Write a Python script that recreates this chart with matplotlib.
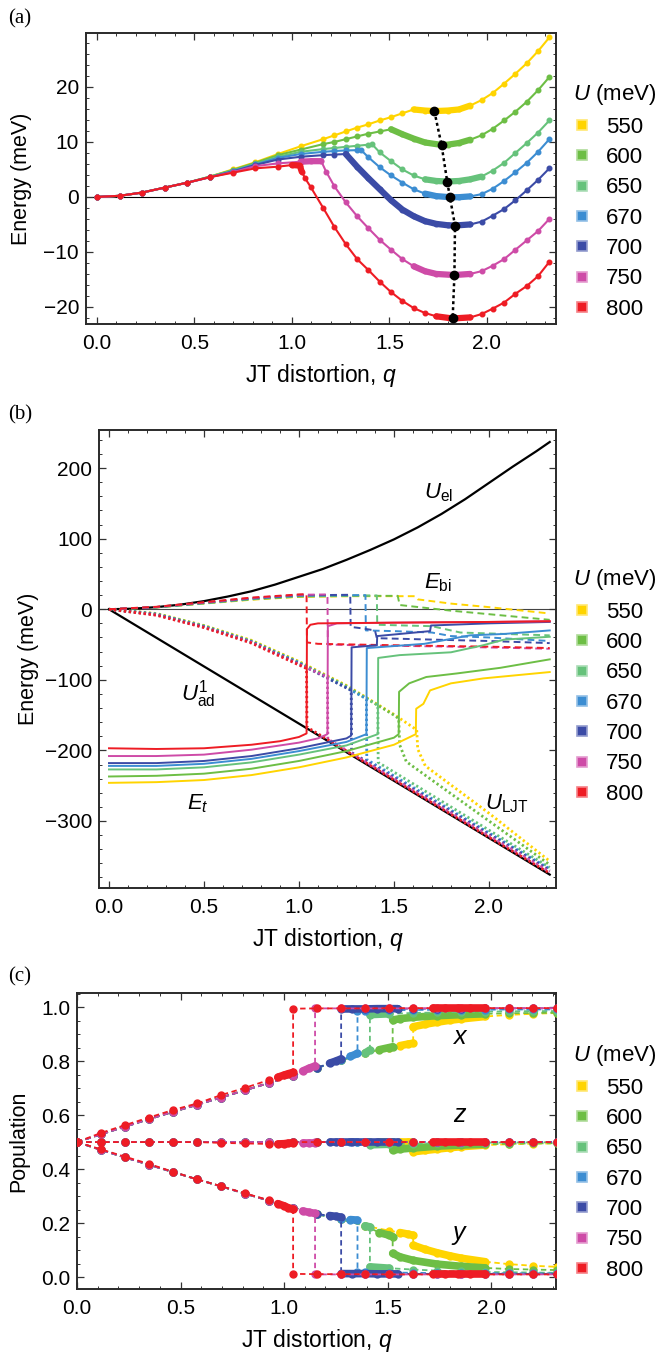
import numpy as np
import matplotlib.pyplot as plt
from matplotlib.lines import Line2D
from matplotlib.ticker import MultipleLocator
from matplotlib import colors as mcolors

plt.rcParams['font.family'] = ['Liberation Sans', 'DejaVu Sans']
plt.rcParams['mathtext.fontset'] = 'custom'
plt.rcParams['mathtext.rm'] = 'Liberation Sans'
plt.rcParams['mathtext.it'] = 'Liberation Sans:italic'
plt.rcParams['mathtext.bf'] = 'Liberation Sans:bold'

# Hubbard U values (meV) and their colours
u_values = [550, 600, 650, 670, 700, 750, 800]
u_colors = ['#FFD400', '#6DBE45', '#66C27B', '#3C8DD2', '#3B4BA6', '#CE4BA7', '#EE1C24']

# ---------------- panel (a): total energy vs q ----------------
a_q = [
    [0, .116, .232, .348, .464, .58, .696, .812, .928, 1.044, 1.16, 1.218, 1.276, 1.334, 1.392, 1.45,
     1.508, 1.566, 1.624, 1.682, 1.73, 1.798, 1.856, 1.914, 1.972, 2.03, 2.088, 2.146, 2.204, 2.262, 2.32],
    [0, .116, .232, .348, .464, .58, .696, .812, .928, 1.044, 1.16, 1.218, 1.276, 1.334, 1.392, 1.45,
     1.508, 1.566, 1.624, 1.682, 1.767, 1.798, 1.856, 1.914, 1.972, 2.03, 2.088, 2.146, 2.204, 2.262, 2.32],
    [0, .116, .232, .348, .464, .58, .696, .812, .928, 1.044, 1.16, 1.218, 1.276, 1.334, 1.392, 1.41, 1.45,
     1.508, 1.566, 1.624, 1.682, 1.74, 1.796, 1.856, 1.914, 1.972, 2.03, 2.088, 2.146, 2.204, 2.262, 2.32],
    [0, .116, .232, .348, .464, .58, .696, .812, .928, 1.044, 1.16, 1.218, 1.276, 1.334, 1.355, 1.392, 1.45,
     1.508, 1.566, 1.624, 1.682, 1.74, 1.81, 1.856, 1.914, 1.972, 2.03, 2.088, 2.146, 2.204, 2.262, 2.32],
    [0, .116, .232, .348, .464, .58, .696, .812, .928, 1.044, 1.16, 1.218, 1.276, 1.334, 1.392, 1.45,
     1.508, 1.566, 1.624, 1.682, 1.74, 1.798, 1.836, 1.914, 1.972, 2.03, 2.088, 2.146, 2.204, 2.262, 2.32],
    [0, .116, .232, .348, .464, .58, .696, .812, .928, 1.044, 1.1, 1.15, 1.175, 1.218, 1.276, 1.334, 1.392,
     1.45, 1.508, 1.566, 1.624, 1.682, 1.74, 1.833, 1.914, 1.972, 2.03, 2.088, 2.146, 2.204, 2.262, 2.32],
    [0, .116, .232, .348, .464, .58, .696, .812, .928, 1.0, 1.04, 1.05, 1.067, 1.096, 1.16, 1.218, 1.276,
     1.334, 1.392, 1.45, 1.508, 1.566, 1.624, 1.682, 1.74, 1.824, 1.914, 1.972, 2.03, 2.088, 2.146, 2.204,
     2.262, 2.32],
]
a_energy = [
    [0, .2, .8, 1.7, 2.6, 3.7, 5.0, 6.3, 7.8, 9.2, 10.5, 11.2, 11.9, 12.6, 13.2, 13.9, 14.5, 15.2, 15.9,
     15.7, 15.6, 15.7, 15.9, 16.6, 17.6, 18.9, 20.6, 22.4, 24.3, 26.5, 29.0],
    [0, .2, .8, 1.7, 2.6, 3.7, 4.9, 6.2, 7.6, 8.6, 9.6, 10.0, 10.5, 11.0, 11.5, 11.9, 12.3, 11.4, 10.6,
     9.9, 9.45, 9.5, 9.8, 10.4, 11.2, 12.4, 13.9, 15.5, 17.3, 19.4, 21.8],
    [0, .2, .8, 1.7, 2.6, 3.7, 4.8, 6.0, 7.3, 8.2, 8.7, 8.9, 9.1, 9.3, 9.5, 9.6, 8.1, 6.5, 5.0, 3.9, 3.2,
     2.9, 2.8, 2.9, 3.2, 3.7, 4.8, 6.2, 8.0, 9.8, 11.7, 13.9],
    [0, .2, .8, 1.7, 2.6, 3.6, 4.7, 5.9, 7.1, 7.8, 8.2, 8.35, 8.45, 8.5, 8.5, 7.2, 5.4, 3.9, 2.6, 1.4, 0.6,
     0.15, -0.05, -0.05, 0.1, 0.5, 1.5, 2.9, 4.5, 6.2, 8.2, 10.5],
    [0, .2, .8, 1.7, 2.6, 3.6, 4.6, 5.8, 6.8, 7.3, 7.6, 7.7, 7.8, 5.5, 3.4, 1.4, -0.6, -2.3, -3.5, -4.4,
     -4.9, -5.15, -5.2, -5.0, -4.5, -3.4, -2.2, -0.6, 1.2, 3.1, 5.2],
    [0, .2, .8, 1.7, 2.6, 3.6, 4.5, 5.6, 6.1, 6.4, 6.5, 6.5, 4.6, 1.9, -1.0, -3.5, -5.7, -7.8, -9.6, -11.3,
     -12.6, -13.5, -14.0, -14.2, -14.0, -13.5, -12.5, -11.3, -9.6, -7.9, -6.2, -4.0],
    [0, .2, .8, 1.7, 2.6, 3.6, 4.4, 5.2, 5.5, 5.8, 5.7, 4.6, 3.4, 1.8, -2.0, -5.5, -8.6, -11.3, -13.3,
     -15.4, -17.3, -18.9, -20.2, -21.1, -21.7, -22.1, -21.9, -21.3, -20.3, -19.2, -17.6, -16.2, -14.4, -11.8],
]
# q-ranges where the sampling is dense (drawn as a thick band)
a_dense = [
    [(1.62, 1.95)],
    [(1.50, 1.95)],
    [(1.68, 1.98)],
    [(1.68, 1.92)],
    [(1.27, 1.95)],
    [(0.93, 1.15), (1.62, 1.95)],
    [(0.95, 1.05), (1.72, 1.95)],
]
a_min_q = [1.73, 1.767, 1.796, 1.81, 1.836, 1.833, 1.824]
a_min_energy = [15.6, 9.45, 2.8, -0.05, -5.2, -14.2, -22.1]

# ---------------- panel (b): energy contributions ----------------
b_uel_q = [0, .125, .25, .375, .5, .625, .75, .875, 1.0, 1.125, 1.25, 1.375, 1.5, 1.625, 1.75, 1.875,
           2.0, 2.125, 2.25, 2.32]
b_uel_energy = [0, 0.8, 3, 6.5, 11.5, 18, 25.5, 35, 46, 57, 70, 84, 99, 116, 135, 156, 179, 202, 224, 237]
b_uljt_q = [0, 2.32]
b_uljt_energy = [0, -376]

b_solid_q = [
    [0, .25, .5, .75, 1.0, 1.25, 1.5, 1.615, 1.617, 1.655, 1.69, 1.8, 1.97, 2.32],
    [0, .25, .5, .75, 1.0, 1.25, 1.5, 1.525, 1.527, 1.58, 1.67, 1.83, 2.06, 2.32],
    [0, .25, .5, .75, 1.0, 1.25, 1.415, 1.417, 1.53, 1.8, 1.97, 2.08, 2.32],
    [0, .25, .5, .75, 1.0, 1.25, 1.355, 1.357, 1.66, 1.8, 1.9, 2.08, 2.32],
    [0, .25, .5, .75, 1.0, 1.25, 1.275, 1.277, 1.41, 1.412, 1.69, 1.695, 2.0, 2.32],
    [0, .25, .5, .75, 1.0, 1.1, 1.15, 1.152, 1.2, 1.5, 2.0, 2.32],
    [0, .25, .5, .75, .9, 1.0, 1.04, 1.042, 1.06, 1.1, 1.5, 2.0, 2.32],
]
b_solid_energy = [
    [-246, -245, -242, -235, -224, -210, -192, -177, -141, -134, -115, -105, -98, -89],
    [-237, -236, -233, -226, -215, -201, -182, -177, -117, -105, -96, -91, -83, -71],
    [-227, -227, -224, -217, -206, -193, -177, -69, -65, -61, -51, -43, -39],
    [-222, -222, -219, -212, -201, -188, -177, -55, -49, -42, -37, -35, -30],
    [-218, -218, -215, -208, -197, -183, -179, -54, -51, -38, -31, -23, -20, -18],
    [-208, -208, -206, -199, -189, -183, -177, -24, -20, -19, -18, -17],
    [-197, -198, -197, -192, -187, -181, -176, -28, -22, -20, -19, -18, -17],
]
b_dash_q = [
    [0, .25, .5, .75, 1.0, 1.3, 1.61, 1.625, 1.8, 2.0, 2.32],
    [0, .25, .5, .75, 1.0, 1.3, 1.52, 1.53, 1.8, 2.0, 2.32],
    [0, .25, .5, .75, 1.0, 1.3, 1.41, 1.412, 1.7, 1.85, 2.32],
    [0, .25, .5, .75, 1.0, 1.3, 1.35, 1.352, 1.5, 1.7, 1.8, 2.0, 2.32],
    [0, .25, .5, .75, 1.0, 1.27, 1.272, 1.33, 1.40, 1.41, 1.7, 2.0, 2.32],
    [0, .25, .5, .75, 1.0, 1.15, 1.152, 1.3, 1.8, 2.32],
    [0, .25, .5, .75, 1.0, 1.04, 1.042, 1.1, 1.5, 2.0, 2.32],
]
b_dash_energy = [
    [0, 2.5, 8, 13.5, 17.5, 18.5, 18.5, 14, 8, 3, -6],
    [0, 2.6, 8.3, 14, 18, 19, 19, 6, -2, -7, -15],
    [0, 2.7, 8.6, 14.5, 18.7, 19.5, 19.5, -22, -24, -33, -37],
    [0, 2.8, 8.9, 15, 19.3, 20, 20, -30, -31, -33, -38, -40, -45],
    [0, 3, 9.2, 15.5, 19.8, 20.5, -25, -27, -30, -41, -43, -45, -48],
    [0, 3.2, 9.6, 16, 20.5, 21, -50, -51, -53, -56],
    [0, 3.5, 10, 16.5, 21, 21.5, -47, -49, -51, -53, -55],
]
b_dot_q = [
    [0, .25, .5, .75, 1.0, 1.25, 1.5, 1.62, 1.625, 1.665, 2.0, 2.32],
    [0, .25, .5, .75, 1.0, 1.25, 1.5, 1.525, 1.53, 1.565, 2.0, 2.32],
    [0, .25, .5, .75, 1.0, 1.25, 1.415, 1.417, 2.0, 2.32],
    [0, .25, .5, .75, 1.0, 1.25, 1.355, 1.357, 2.0, 2.32],
    [0, .25, .5, .75, 1.0, 1.275, 1.277, 2.0, 2.32],
    [0, .25, .5, .75, 1.0, 1.15, 1.152, 2.0, 2.32],
    [0, .25, .5, .75, 1.0, 1.04, 1.042, 2.0, 2.32],
]
b_dot_energy = [
    [0, -6, -23, -44, -74, -108, -149, -171, -198, -222, -289, -357],
    [0, -6.5, -23.5, -45, -75, -109, -150, -155, -192, -216, -300, -362],
    [0, -7, -24, -45.5, -75.5, -110, -136, -217, -313, -366],
    [0, -7, -24.5, -46, -76, -111, -127, -213, -317, -368],
    [0, -7.5, -25, -46.5, -77, -115, -203, -319, -370],
    [0, -8, -25.5, -47, -78, -96, -184, -321, -372],
    [0, -8.5, -26, -48, -79, -84, -167, -323, -374],
]

# ---------------- panel (c): orbital populations ----------------
c_q_common = [0, .116, .232, .348, .464, .58, .696, .812, .928, 1.044, 1.16, 1.276, 1.392]
c_x_common = [.5, .529, .557, .585, .612, .638, .665, .692, .719, .746, .775, .803, .83]
c_z_common = [.5, .5, .5, .5, .5, .5, .5, .5, .5, .5, .5, .5, .5]
c_y_common = [.5, .471, .443, .416, .389, .362, .336, .309, .283, .257, .233, .214, .19]

c_q = [
    c_q_common + [1.508, 1.56, 1.6, 1.624, 1.624, 1.68, 1.74, 1.8, 1.856, 1.972, 2.088, 2.204, 2.32],
    c_q_common + [1.46, 1.508, 1.525, 1.525, 1.56, 1.624, 1.74, 1.856, 1.972, 2.088, 2.204, 2.32],
    c_q_common + [1.415, 1.415, 1.508, 1.624, 1.74, 1.856, 1.972, 2.088, 2.204, 2.32],
    c_q_common[:12] + [1.32, 1.355, 1.355, 1.392, 1.508, 1.624, 1.74, 1.856, 1.972, 2.088, 2.204, 2.32],
    c_q_common[:11] + [1.22, 1.25, 1.276, 1.276, 1.33, 1.392, 1.45, 1.508, 1.55, 1.624, 1.74, 1.856,
                       1.972, 2.088, 2.204, 2.32],
    c_q_common[:10] + [1.09, 1.12, 1.15, 1.15, 1.276, 1.392, 1.508, 1.624, 1.74, 1.856, 1.972, 2.088,
                       2.204, 2.32],
    [0, .116, .232, .348, .464, .58, .696, .812, .928, .97, 1.0, 1.02, 1.044, 1.044, 1.16, 1.276, 1.392,
     1.508, 1.624, 1.72, 1.78, 1.84, 1.9, 1.972, 2.088, 2.204, 2.32],
]
c_x = [
    c_x_common + [.848, .857, .863, .866, .927, .936, .944, .951, .956, .965, .971, .975, .978],
    c_x_common + [.842, .85, .853, .952, .957, .962, .968, .972, .975, .977, .978, .979],
    c_x_common + [.841, .972, .975, .978, .98, .982, .983, .984, .985, .985],
    c_x_common[:12] + [.817, .828, .985, .987, .988, .989, .99, .99, .99, .991, .991, .991],
    c_x_common[:11] + [.792, .8, .808, .993, .993, .993, .994, .994, .994, .994, .994, .994, .995, .995,
                       .995, .995],
    c_x_common[:10] + [.763, .773, .782, .995, .995, .995, .995, .995, .996, .996, .996, .996, .996, .996],
    [.5, .534, .563, .591, .619, .643, .674, .701, .73, .74, .748, .753, .758, .994, .995, .995, .995, .996,
     .996, .996, .996, .996, .996, .996, .996, .996, .996],
]
c_z = [
    c_z_common + [.5, .5, .5, .5, .464, .469, .474, .479, .483, .489, .492, .494, .495],
    c_z_common + [.5, .5, .5, .47, .474, .478, .485, .489, .492, .494, .495, .496],
    c_z_common + [.5, .49, .492, .494, .496, .497, .498, .498, .499, .499],
    c_z_common[:12] + [.5, .5, .5, .5, .5, .5, .5, .5, .5, .5, .5, .5],
    c_z_common[:11] + [.5, .5, .5, .5, .5, .5, .5, .5, .5, .5, .5, .5, .5, .5, .5, .5],
    c_z_common[:10] + [.498, .498, .498, .5, .5, .5, .5, .5, .5, .5, .5, .5, .5, .5],
    [.5, .5, .5, .5, .5, .5, .497, .495, .493, .493, .494, .496, .497, .5, .5, .5, .5, .5, .5, .5, .5, .5,
     .5, .5, .5, .5, .5],
]
c_y = [
    c_y_common + [.172, .165, .159, .155, .118, .103, .09, .079, .07, .057, .048, .042, .038],
    c_y_common + [.165, .155, .15, .088, .075, .062, .048, .04, .034, .03, .028, .026],
    c_y_common + [.186, .038, .033, .028, .024, .021, .019, .018, .017, .016],
    c_y_common[:12] + [.213, .211, .02, .018, .017, .016, .015, .015, .015, .014, .014, .014],
    c_y_common[:11] + [.228, .225, .222, .013, .013, .013, .012, .012, .012, .012, .012, .012, .012, .012,
                       .012, .012],
    c_y_common[:10] + [.245, .24, .236, .01, .01, .01, .01, .01, .01, .01, .01, .01, .01, .01],
    [.5, .473, .446, .419, .39, .362, .337, .31, .285, .272, .264, .257, .251, .012, .011, .011, .011, .01,
     .01, .01, .01, .01, .01, .01, .01, .01, .01],
]
# dense-sampling ranges before / after the jump
c_dense_pre = [(1.55, 1.63), (1.45, 1.53), (1.38, 1.42), (1.30, 1.36), (1.2, 1.28), (1.08, 1.16), (0.95, 1.05)]
c_dense_post = [(1.6, 1.98), (1.5, 1.98), (1.4, 1.52), None, (1.27, 1.56), None, (1.72, 1.98)]


def lighten(c, f=0.45):
    r, g, b = mcolors.to_rgb(c)
    return (r + (1 - r) * f, g + (1 - g) * f, b + (1 - b) * f)


def style_axes(ax, xmaj, xmin, ymaj, ymin):
    for s in ax.spines.values():
        s.set_color('#2a2a2a')
        s.set_linewidth(1.4)
    ax.xaxis.set_major_locator(MultipleLocator(xmaj))
    ax.xaxis.set_minor_locator(MultipleLocator(xmin))
    ax.yaxis.set_major_locator(MultipleLocator(ymaj))
    ax.yaxis.set_minor_locator(MultipleLocator(ymin))
    ax.tick_params(which='both', direction='in', top=True, right=True, labelsize=15, color='#333333')
    ax.tick_params(which='major', length=5, width=0.9)
    ax.tick_params(which='minor', length=2.5, width=0.7)
    ax.tick_params(axis='x', pad=7)
    ax.tick_params(axis='y', pad=5)


def add_legend(ax, x, y):
    handles = [Line2D([], [], ls='', marker='s', ms=7, mfc=c, mec=lighten(c), mew=1.2) for c in u_colors]
    leg = ax.legend(handles, [str(u) for u in u_values], title='$U$ (meV)', loc='upper left',
                    bbox_to_anchor=(x, y), frameon=False, fontsize=16, title_fontsize=16,
                    handlelength=0.8, handletextpad=0.7, labelspacing=0.42, borderaxespad=0,
                    borderpad=0)
    leg._legend_box.align = 'left'


fig = plt.figure(figsize=(6.6, 13.55), dpi=100)
W, H = 660.0, 1355.0
ax_a = fig.add_axes([86 / W, 1 - 324 / H, 470 / W, 291 / H])
ax_b = fig.add_axes([99 / W, 1 - 888 / H, 457 / W, 458 / H])
ax_c = fig.add_axes([77 / W, 1 - 1289 / H, 479 / W, 296 / H])

# ---- (a)
ax_a.axhline(0, color='k', lw=0.8, zorder=1)
for i, c in enumerate(u_colors):
    q = np.array(a_q[i])
    e = np.array(a_energy[i])
    ax_a.plot(q, e, '-', color=c, lw=1.5, marker='o', ms=3.3, mec=c, zorder=3 + i)
    for q0, q1 in a_dense[i]:
        m = (q >= q0) & (q <= q1)
        ax_a.plot(q[m], e[m], '-', color=c, lw=4.5, solid_capstyle='round', zorder=3 + i)
ax_a.plot(a_min_q, a_min_energy, color='k', ls=(0, (1.2, 1.2)), lw=1.8, marker='o', ms=6, zorder=20)
ax_a.set_xlim(-0.0564, 2.354)
ax_a.set_ylim(-23.1, 29.8)
style_axes(ax_a, 0.5, 0.1, 10, 2)
ax_a.set_xlabel('JT distortion, $q$', fontsize=16.5, labelpad=7)
ax_a.set_ylabel('Energy (meV)', fontsize=15.5, labelpad=8)
add_legend(ax_a, 1.036, 0.83)

# ---- (b)
ax_b.axhline(0, color='#444444', lw=0.8, zorder=1)
ax_b.plot(b_uel_q, b_uel_energy, color='k', lw=1.6, zorder=2)
ax_b.plot(b_uljt_q, b_uljt_energy, color='k', lw=1.6, zorder=2)
for i, c in enumerate(u_colors):
    ax_b.plot(b_dot_q[i], b_dot_energy[i], color=c, lw=2.0, ls=(0, (0.8, 1.0)), zorder=3 + i)
    ax_b.plot(b_dash_q[i], b_dash_energy[i], color=c, lw=1.4, ls=(0, (3.5, 2.2)), zorder=3 + i)
    ax_b.plot(b_solid_q[i], b_solid_energy[i], color=c, lw=1.4, zorder=10 + i)
ax_b.set_xlim(-0.0526, 2.353)
ax_b.set_ylim(-395, 254)
style_axes(ax_b, 0.5, 0.1, 100, 20)
ax_b.set_xlabel('JT distortion, $q$', fontsize=16.5, labelpad=7)
ax_b.set_ylabel('Energy (meV)', fontsize=15.5, labelpad=4)
ax_b.text(1.66, 165, r'$U_{\rm el}$', fontsize=16, va='center', ha='left')
ax_b.text(1.66, 38, r'$E_{\rm bi}$', fontsize=16, va='center', ha='left')
ax_b.text(0.38, -120, r'$U_{\rm ad}^{1}$', fontsize=16, va='center', ha='left')
ax_b.text(0.41, -275, r'$E_t$', fontsize=16, va='center', ha='left')
ax_b.text(1.98, -275, r'$U_{\rm LJT}$', fontsize=16, va='center', ha='left')
add_legend(ax_b, 1.037, 0.70)

# ---- (c)
for i, c in enumerate(u_colors):
    q = np.array(c_q[i])
    k = int(np.where(np.diff(q) == 0)[0][0])
    for vals in (c_x[i], c_z[i], c_y[i]):
        v = np.array(vals)
        ax_c.plot(q, v, color=c, lw=1.3, ls=(0, (3, 2)), marker='o', ms=5, mec=c, zorder=3 + i)
        for sl, rng in ((slice(0, k + 1), c_dense_pre[i]), (slice(k + 1, None), c_dense_post[i])):
            if rng is None:
                continue
            qs, vs = q[sl], v[sl]
            m = (qs >= rng[0]) & (qs <= rng[1])
            ax_c.plot(qs[m], vs[m], color=c, lw=5.5, solid_capstyle='round', zorder=3 + i)
ax_c.set_xlim(0, 2.314)
ax_c.set_ylim(-0.044, 1.052)
style_axes(ax_c, 0.5, 0.1, 0.2, 0.05)
ax_c.set_xlabel('JT distortion, $q$', fontsize=16.5, labelpad=7)
ax_c.set_ylabel('Population', fontsize=15.5, labelpad=8)
ax_c.text(1.85, 0.89, '$x$', fontsize=18, va='center', ha='center')
ax_c.text(1.85, 0.60, '$z$', fontsize=18, va='center', ha='center')
ax_c.text(1.85, 0.155, '$y$', fontsize=18, va='center', ha='center')
add_legend(ax_c, 1.035, 0.83)

for lab, yy in (('(a)', 19), ('(b)', 415), ('(c)', 977)):
    fig.text(8 / W, 1 - yy / H, lab, fontsize=15, family='Liberation Serif', va='center', ha='left')

fig.savefig('out.png', dpi=100)
